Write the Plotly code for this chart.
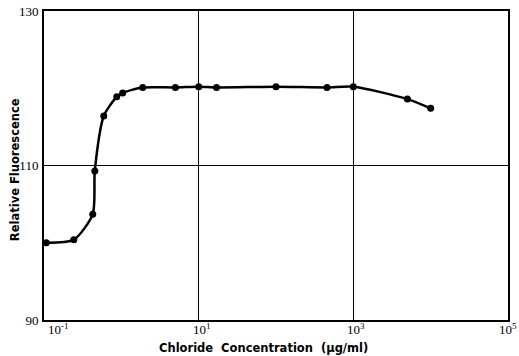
import math
import plotly.graph_objects as go

conc = [0.107, 0.243, 0.427, 0.454, 0.593, 0.873, 1.04, 1.89, 5.0, 10.0, 17.0, 100.0, 457.0, 1000.0, 5000.0, 10000.0]
fluor = [100.0, 100.4, 103.7, 109.3, 116.4, 118.9, 119.4, 120.1, 120.1, 120.2, 120.1, 120.2, 120.1, 120.2, 118.6, 117.4]

x_tickvals = [0.1, 10, 1000, 100000]
x_ticktext = ["10<sup>-1</sup>", "10<sup>1</sup>", "10<sup>3</sup>", "10<sup>5</sup>"]
y_tickvals = [90, 110, 130]
y_ticktext = ["90", "110", "130"]

fig = go.Figure()
fig.add_trace(go.Scatter(
    x=conc, y=fluor, mode="lines+markers",
    line=dict(color="black", width=2.5, shape="spline", smoothing=0.7),
    marker=dict(color="black", size=7),
    showlegend=False,
))

tick_font = dict(family="Liberation Serif", size=13, color="black")
title_font = dict(family="DejaVu Sans", size=11.5, color="black")
fig.update_layout(
    width=519, height=356,
    margin=dict(l=44, r=11, t=11, b=36),
    paper_bgcolor="white", plot_bgcolor="white",
    font=tick_font,
)
fig.update_xaxes(
    type="log", range=[-1, 5], automargin=False,
    tickvals=x_tickvals, showticklabels=False,
    showgrid=True, gridcolor="black", gridwidth=1,
    showline=True, linecolor="black", linewidth=2, mirror=True,
    ticks="", zeroline=False,
)
fig.update_yaxes(
    range=[90, 130], automargin=False,
    tickvals=y_tickvals, ticktext=y_ticktext, tickfont=tick_font,
    showgrid=True, gridcolor="black", gridwidth=1,
    showline=True, linecolor="black", linewidth=2, mirror=True,
    ticks="", zeroline=False, ticklabelstandoff=1,
)
n = len(x_tickvals)
for i, (v, t) in enumerate(zip(x_tickvals, x_ticktext)):
    anchor = "left" if i == 0 else "center"
    shift = 3 if i == 0 else (0 if i == n - 1 else 3)
    fig.add_annotation(
        text=t, xref="x", yref="paper", x=math.log10(v), y=0.0,
        xanchor=anchor, yanchor="top", xshift=shift, showarrow=False,
        font=tick_font, borderpad=0,
    )
fig.add_annotation(
    text="<b>Chloride  Concentration  (μg/ml)</b>", xref="paper", yref="paper",
    x=0.472, y=-0.0906, xanchor="center", yanchor="middle", showarrow=False,
    font=title_font, borderpad=0,
)
fig.add_annotation(
    text="<b>Relative Fluorescence</b>", xref="paper", yref="paper",
    x=-0.0625, y=0.485, xanchor="center", yanchor="middle", showarrow=False,
    textangle=-90, font=title_font,
)
fig.write_html("out.html")
